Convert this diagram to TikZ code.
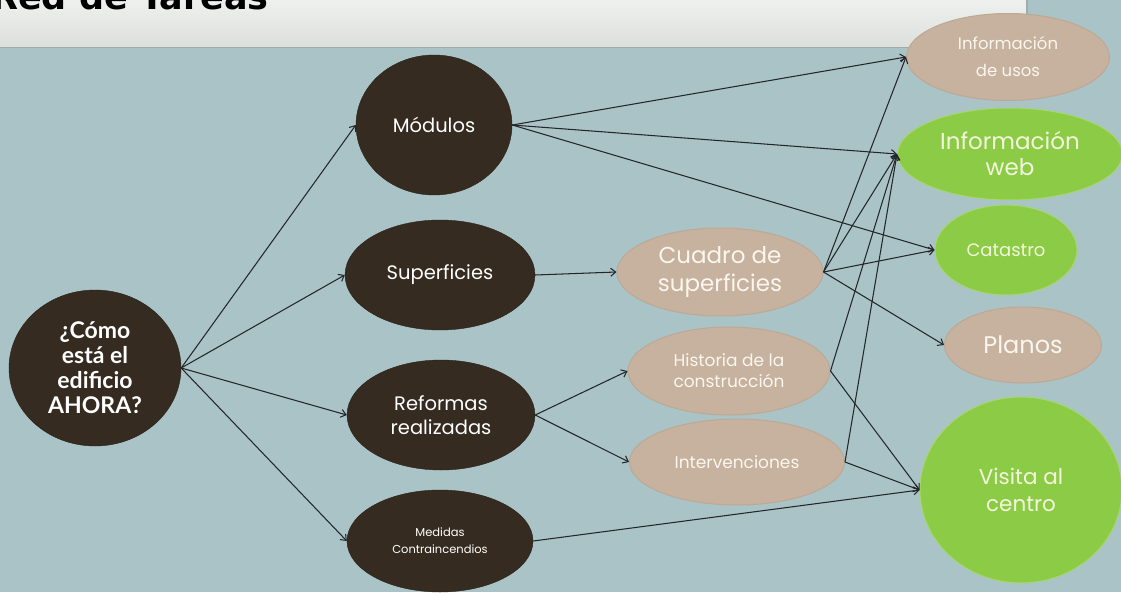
\documentclass[tikz,border=0pt]{standalone}
\usepackage{fontspec}
\setmainfont{Poppins}
\newfontfamily\latof{Lato}
\newfontfamily\titlef{DejaVu Sans}
\usetikzlibrary{shapes.geometric,arrows.meta}
\definecolor{bgc}{HTML}{AAC3C6}
\definecolor{darkn}{HTML}{352B20}
\definecolor{tann}{HTML}{C6B29E}
\definecolor{tanb}{HTML}{BCA893}
\definecolor{greenn}{HTML}{8CCB46}
\definecolor{greenb}{HTML}{A6D674}
\definecolor{edgec}{HTML}{23262A}
\definecolor{bartop}{HTML}{EEF0EE}
\definecolor{barbot}{HTML}{DCE0DD}
\definecolor{barline}{HTML}{A2ACA8}
\definecolor{tantext}{HTML}{FBF6EE}
\definecolor{greentext}{HTML}{F3F6DC}
\newcommand{\fs}[2]{\fontsize{#1}{#2}\selectfont}
\tikzset{
  nd/.style={ellipse, inner sep=0pt, align=center},
  darknode/.style={nd, fill=darkn, draw=darkn!80!black, text=white},
  tannode/.style={nd, fill=tann, draw=tanb, line width=1pt, text=tantext},
  greennode/.style={nd, fill=greenn, draw=greenb, line width=1pt, text=greentext},
  conn/.style={draw=edgec, line width=1.05pt, -{Straight Barb[length=5pt,width=8pt]}}
}
\begin{document}
\begin{tikzpicture}[x=1pt,y=-1pt]
\useasboundingbox (0,0) rectangle (1121,592);
\fill[bgc] (0,0) rectangle (1121,592);
\shade[top color=bartop, bottom color=barbot] (0,0) rectangle (1027,47);
\draw[barline, line width=1.5pt] (0,47.5) -- (1027,47.5) -- (1027,0);
\begin{scope}
\clip (0,0) rectangle (1027,47);
\node[anchor=base west, inner sep=0pt, text=black, font=\titlef\bfseries\fs{35}{40}] (title) at (-9,9) {Red de Tareas};
\end{scope}

% nodes
\node[darknode, minimum width=172pt, minimum height=156pt, font=\latof\bfseries\fs{23}{25}] (C) at (95,368)
  {¿Cómo\\está el\\edificio\\AHORA?};
\node[darknode, minimum width=156pt, minimum height=140pt, font=\fs{19.5}{24}] (M) at (434,125) {Módulos};
\node[darknode, minimum width=190pt, minimum height=110pt, font=\fs{19.5}{24}] (S) at (440,275) {Superficies};
\node[darknode, minimum width=188pt, minimum height=110pt, font=\fs{19.5}{24}] (R) at (441,415) {Reformas\\realizadas};
\node[darknode, minimum width=186pt, minimum height=102pt, font=\fs{11.5}{17}] (D) at (440,541) {Medidas\\Contraincendios};

\node[tannode, minimum width=206pt, minimum height=88pt, font=\fs{23}{28}] (Q) at (720,272) {Cuadro de\\superficies};
\node[tannode, minimum width=202pt, minimum height=88pt, font=\fs{17}{21}] (H) at (729,371) {Historia de la\\construcción};
\node[tannode, minimum width=215pt, minimum height=86pt, font=\fs{17}{21}] (I) at (737,462) {Intervenciones};

\node[tannode, minimum width=203pt, minimum height=87pt, font=\fs{16.5}{27}] (U) at (1008,57) {Información\\de usos};
\node[greennode, minimum width=225pt, minimum height=92pt, font=\fs{23}{26}] (W) at (1010,154) {Información\\web};
\node[greennode, minimum width=142pt, minimum height=90pt, font=\fs{18}{22}] (K) at (1006,250) {Catastro};
\node[tannode, minimum width=157pt, minimum height=76pt, font=\fs{24}{28}] (P) at (1023,345) {Planos};
\node[greennode, minimum width=202pt, minimum height=186pt, font=\fs{21.5}{27}] (V) at (1021,490) {Visita al\\centro};

% connectors
\draw[conn] (C.east) -- (M.west);
\draw[conn] (C.east) -- (S.west);
\draw[conn] (C.east) -- (R.west);
\draw[conn] (C.east) -- (D.west);
\draw[conn] (M.east) -- (U.west);
\draw[conn] (M.east) -- (W.west);
\draw[conn] (M.east) -- (K.west);
\draw[conn] (S.east) -- (Q.west);
\draw[conn] (R.east) -- (H.west);
\draw[conn] (R.east) -- (I.west);
\draw[conn] (D.east) -- (V.west);
\draw[conn] (Q.east) -- (U.west);
\draw[conn] (Q.east) -- (W.west);
\draw[conn] (Q.east) -- (K.west);
\draw[conn] (Q.east) -- (P.west);
\draw[conn] (H.east) -- (W.west);
\draw[conn] (H.east) -- (V.west);
\draw[conn] (I.east) -- (W.west);
\draw[conn] (I.east) -- (V.west);
\end{tikzpicture}
\end{document}
